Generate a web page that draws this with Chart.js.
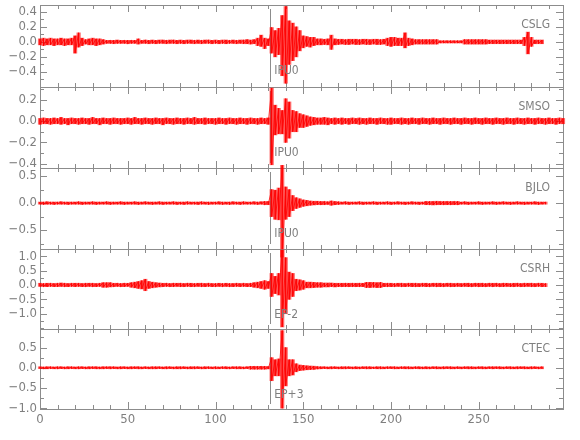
<!DOCTYPE html>
<html>
<head>
<meta charset="utf-8">
<script src="https://cdn.jsdelivr.net/npm/chart.js"></script>
<style>
  body { margin: 0; background: #fff; }
  #wrap { position: relative; width: 580px; height: 440px; overflow: hidden; }
  #wrap canvas { position: absolute; left: 0; }
</style>
</head>
<body>
<div id="wrap"></div>
<script>
// sample times (s), 2 s bins; each trace keeps the max / min of the bin
const times = [
  0,2,4,6,8,10,12,14,16,18,
  20,22,24,26,28,30,32,34,36,38,
  40,42,44,46,48,50,52,54,56,58,
  60,62,64,66,68,70,72,74,76,78,
  80,82,84,86,88,90,92,94,96,98,
  100,102,104,106,108,110,112,114,116,118,
  120,122,124,126,128,130,132,134,136,138,
  140,142,144,146,148,150,152,154,156,158,
  160,162,164,166,168,170,172,174,176,178,
  180,182,184,186,188,190,192,194,196,198,
  200,202,204,206,208,210,212,214,216,218,
  220,222,224,226,228,230,232,234,236,238,
  240,242,244,246,248,250,252,254,256,258,
  260,262,264,266,268,270,272,274,276,278,
  280,282,284,286,288,290,292,294,296,298
];

const cslgHi = [
  .04,.05,.04,.05,.04,.04,.05,.04,.04,.05,
  .08,.12,.05,.03,.04,.05,.04,.04,.03,.02,
  .02,.02,.025,.02,.02,.02,.02,.02,.04,.02,
  .025,.02,.025,.02,.025,.025,.02,.025,.025,.02,
  .025,.02,.025,.025,.02,.025,.02,.025,.025,.02,
  .025,.02,.025,.025,.02,.025,.02,.025,.025,.03,
  .025,.03,.05,.09,.05,.04,.19,.15,.18,.35,
  .47,.28,.25,.2,.15,.08,.07,.06,.06,.04,
  .04,.035,.04,.09,.04,.035,.035,.03,.035,.035,
  .035,.03,.035,.035,.03,.035,.035,.03,.035,.05,
  .06,.06,.05,.05,.12,.05,.04,.03,.03,.03,
  .03,.03,.03,.03,.015,.015,.015,.015,.015,.015,
  .015,.03,.03,.03,.03,.03,.03,.03,.025,.025,
  .025,.025,.025,.025,.025,.025,.025,.025,.06,.13,
  .06,.025,.025,.025,null,null,null,null,null,null
];
const cslgLo = [
  -.04,-.05,-.04,-.04,-.05,-.04,-.04,-.05,-.04,-.04,
  -.15,-.07,-.05,-.03,-.04,-.04,-.05,-.04,-.03,-.02,
  -.02,-.025,-.02,-.02,-.02,-.025,-.02,-.02,-.03,-.02,
  -.02,-.025,-.02,-.025,-.02,-.02,-.025,-.02,-.02,-.025,
  -.02,-.025,-.02,-.02,-.025,-.02,-.025,-.02,-.02,-.025,
  -.02,-.025,-.02,-.025,-.02,-.02,-.025,-.02,-.025,-.025,
  -.03,-.025,-.05,-.06,-.09,-.05,-.15,-.2,-.17,-.45,
  -.55,-.3,-.25,-.2,-.12,-.08,-.06,-.07,-.05,-.04,
  -.04,-.035,-.04,-.1,-.04,-.035,-.03,-.035,-.035,-.03,
  -.035,-.035,-.03,-.035,-.035,-.03,-.035,-.035,-.03,-.05,
  -.06,-.05,-.05,-.05,-.08,-.05,-.04,-.03,-.03,-.03,
  -.03,-.03,-.03,-.03,-.015,-.015,-.015,-.015,-.015,-.015,
  -.015,-.03,-.03,-.03,-.03,-.03,-.03,-.03,-.025,-.025,
  -.025,-.025,-.025,-.025,-.025,-.025,-.025,-.025,-.05,-.16,
  -.06,-.025,-.025,-.025,null,null,null,null,null,null
];

const smsoHi = [
  .025,.03,.025,.025,.03,.025,.035,.025,.025,.03,
  .025,.025,.03,.025,.025,.035,.025,.025,.03,.025,
  .025,.03,.025,.025,.025,.03,.025,.035,.025,.025,
  .03,.025,.025,.03,.025,.025,.03,.025,.025,.03,
  .025,.025,.03,.025,.035,.025,.025,.03,.025,.025,
  .025,.03,.025,.025,.03,.025,.025,.03,.025,.025,
  .03,.025,.025,.03,.025,.03,.31,.15,.12,.1,
  .21,.18,.1,.09,.07,.06,.05,.04,.035,.03,
  .03,.035,.03,.025,.03,.025,.03,.025,.025,.03,
  .025,.03,.025,.025,.03,.025,.025,.03,.025,.025,
  .03,.025,.025,.03,.025,.025,.03,.025,.025,.03,
  .025,.025,.03,.025,.025,.03,.025,.025,.03,.025,
  .025,.03,.025,.025,.03,.025,.025,.03,.025,.025,
  .03,.025,.025,.03,.025,.025,.03,.025,.025,.03,
  .025,.025,.03,.025,.025,.03,.025,.025,.03,.025
];
const smsoLo = [
  -.03,-.025,-.025,-.03,-.025,-.025,-.03,-.025,-.035,-.025,
  -.025,-.03,-.025,-.025,-.03,-.025,-.025,-.035,-.025,-.025,
  -.03,-.025,-.025,-.03,-.025,-.025,-.03,-.025,-.025,-.03,
  -.025,-.025,-.03,-.025,-.025,-.035,-.025,-.025,-.03,-.025,
  -.025,-.03,-.025,-.025,-.03,-.025,-.025,-.03,-.025,-.025,
  -.03,-.025,-.025,-.03,-.025,-.025,-.03,-.025,-.025,-.03,
  -.025,-.025,-.03,-.025,-.025,-.03,-.41,-.13,-.12,-.12,
  -.2,-.16,-.1,-.1,-.06,-.06,-.05,-.04,-.035,-.03,
  -.03,-.03,-.035,-.025,-.03,-.025,-.03,-.025,-.03,-.025,
  -.025,-.03,-.025,-.03,-.025,-.025,-.03,-.025,-.025,-.03,
  -.03,-.025,-.025,-.03,-.025,-.03,-.025,-.025,-.03,-.025,
  -.025,-.03,-.025,-.025,-.03,-.025,-.025,-.03,-.025,-.025,
  -.03,-.025,-.025,-.03,-.025,-.025,-.03,-.025,-.025,-.03,
  -.025,-.025,-.03,-.025,-.025,-.03,-.025,-.025,-.03,-.025,
  -.025,-.03,-.025,-.025,-.03,-.025,-.025,-.03,-.025,-.025
];

const bjloHi = [
  .02,.02,.025,.02,.02,.02,.025,.02,.02,.02,
  .02,.025,.02,.02,.02,.025,.02,.02,.02,.025,
  .02,.02,.02,.025,.02,.02,.02,.025,.02,.02,
  .025,.02,.02,.02,.025,.02,.02,.02,.025,.02,
  .02,.02,.025,.02,.02,.02,.025,.02,.02,.02,
  .02,.025,.02,.02,.02,.025,.02,.02,.025,.02,
  .02,.025,.02,.025,.03,.03,.25,.24,.28,.7,
  .3,.25,.14,.1,.08,.06,.05,.04,.035,.035,
  .03,.03,.025,.04,.03,.025,.02,.025,.02,.02,
  .02,.025,.02,.02,.02,.025,.02,.02,.02,.025,
  .02,.02,.025,.02,.02,.02,.025,.02,.02,.02,
  .03,.03,.03,.035,.03,.03,.03,.03,.03,.03,
  .02,.025,.02,.02,.02,.025,.02,.02,.02,.025,
  .02,.02,.025,.02,.02,.02,.025,.02,.02,.02,
  .02,.025,.02,.02,.02,null,null,null,null,null
];
const bjloLo = [
  -.02,-.025,-.02,-.02,-.025,-.02,-.02,-.02,-.025,-.02,
  -.02,-.02,-.025,-.02,-.02,-.02,-.025,-.02,-.02,-.02,
  -.025,-.02,-.02,-.02,-.025,-.02,-.02,-.02,-.025,-.02,
  -.02,-.02,-.025,-.02,-.02,-.025,-.02,-.02,-.02,-.025,
  -.02,-.025,-.02,-.02,-.02,-.025,-.02,-.02,-.025,-.02,
  -.02,-.02,-.025,-.02,-.025,-.02,-.02,-.025,-.02,-.02,
  -.02,-.02,-.025,-.02,-.03,-.03,-.25,-.3,-.31,-1.0,
  -.3,-.25,-.14,-.1,-.08,-.06,-.05,-.04,-.035,-.03,
  -.03,-.03,-.025,-.04,-.03,-.025,-.02,-.02,-.025,-.02,
  -.02,-.02,-.025,-.02,-.02,-.02,-.025,-.02,-.02,-.02,
  -.025,-.02,-.02,-.02,-.025,-.02,-.02,-.02,-.025,-.02,
  -.03,-.03,-.035,-.03,-.03,-.03,-.03,-.03,-.03,-.03,
  -.02,-.02,-.025,-.02,-.02,-.02,-.025,-.02,-.02,-.02,
  -.025,-.02,-.02,-.02,-.025,-.02,-.02,-.02,-.025,-.02,
  -.02,-.02,-.025,-.02,-.02,null,null,null,null,null
];

const csrhHi = [
  .06,.05,.06,.06,.05,.06,.07,.06,.05,.06,
  .06,.06,.05,.06,.06,.06,.05,.06,.08,.08,
  .08,.06,.06,.05,.06,.06,.08,.1,.12,.15,
  .2,.12,.1,.08,.07,.06,.06,.05,.06,.06,
  .06,.05,.06,.06,.05,.06,.06,.05,.06,.05,
  .05,.06,.05,.06,.05,.05,.06,.05,.06,.05,
  .06,.08,.1,.12,.15,.12,.4,.3,.4,1.22,
  .95,.45,.4,.2,.18,.15,.1,.1,.09,.08,
  .08,.07,.07,.07,.06,.06,.06,.06,.06,.06,
  .06,.06,.06,.09,.09,.09,.08,.09,.06,.06,
  .06,.05,.06,.06,.05,.06,.06,.06,.05,.06,
  .06,.05,.06,.06,.06,.05,.06,.06,.05,.06,
  .05,.06,.06,.05,.06,.06,.06,.05,.06,.06,
  .06,.05,.06,.06,.05,.06,.06,.05,.06,.06,
  .06,.05,.06,.06,.05,null,null,null,null,null
];
const csrhLo = [
  -.05,-.06,-.06,-.05,-.06,-.06,-.05,-.06,-.06,-.05,
  -.06,-.05,-.06,-.06,-.05,-.06,-.06,-.05,-.08,-.08,
  -.07,-.06,-.05,-.06,-.06,-.05,-.08,-.1,-.12,-.14,
  -.2,-.12,-.1,-.08,-.07,-.06,-.05,-.06,-.06,-.05,
  -.06,-.06,-.05,-.06,-.06,-.05,-.06,-.06,-.05,-.06,
  -.06,-.05,-.06,-.05,-.06,-.06,-.05,-.06,-.05,-.06,
  -.06,-.08,-.1,-.12,-.15,-.12,-.4,-.3,-.35,-1.46,
  -1.0,-.5,-.4,-.2,-.18,-.15,-.1,-.1,-.09,-.08,
  -.08,-.07,-.07,-.06,-.07,-.06,-.06,-.06,-.06,-.06,
  -.06,-.06,-.06,-.09,-.09,-.08,-.09,-.09,-.06,-.06,
  -.06,-.06,-.05,-.06,-.06,-.05,-.06,-.06,-.06,-.05,
  -.06,-.06,-.05,-.06,-.06,-.06,-.05,-.06,-.06,-.05,
  -.06,-.05,-.06,-.06,-.05,-.06,-.06,-.06,-.05,-.06,
  -.05,-.06,-.06,-.05,-.06,-.06,-.05,-.06,-.06,-.05,
  -.06,-.06,-.05,-.06,-.06,null,null,null,null,null
];

const ctecHi = [
  .025,.02,.025,.025,.02,.025,.025,.02,.025,.025,
  .02,.025,.025,.02,.025,.025,.025,.02,.025,.025,
  .025,.025,.02,.025,.025,.02,.025,.025,.025,.02,
  .025,.02,.025,.025,.025,.02,.025,.025,.02,.025,
  .025,.025,.02,.025,.025,.025,.02,.025,.025,.02,
  .025,.02,.025,.025,.02,.025,.025,.025,.02,.025,
  .035,.035,.035,.035,.035,.03,.25,.2,.22,.92,
  .5,.2,.2,.1,.07,.06,.05,.045,.04,.03,
  .025,.025,.02,.025,.025,.02,.025,.025,.025,.02,
  .025,.02,.025,.025,.025,.02,.025,.025,.02,.025,
  .025,.025,.02,.025,.025,.025,.02,.025,.025,.02,
  .025,.02,.025,.025,.02,.025,.025,.025,.02,.025,
  .02,.025,.025,.025,.02,.025,.025,.02,.025,.025,
  .025,.025,.02,.025,.025,.02,.025,.025,.025,.02,
  .025,.025,.02,.025,null,null,null,null,null,null
];
const ctecLo = [
  -.02,-.025,-.025,-.02,-.025,-.025,-.02,-.025,-.025,-.02,
  -.025,-.025,-.02,-.025,-.025,-.02,-.025,-.025,-.025,-.02,
  -.025,-.02,-.025,-.025,-.02,-.025,-.025,-.02,-.025,-.025,
  -.02,-.025,-.025,-.025,-.02,-.025,-.025,-.02,-.025,-.025,
  -.025,-.02,-.025,-.025,-.025,-.02,-.025,-.025,-.02,-.025,
  -.025,-.025,-.02,-.025,-.025,-.02,-.025,-.025,-.025,-.02,
  -.035,-.035,-.035,-.035,-.035,-.03,-.32,-.2,-.2,-1.0,
  -.45,-.2,-.18,-.1,-.07,-.06,-.05,-.045,-.04,-.03,
  -.025,-.02,-.025,-.025,-.02,-.025,-.025,-.025,-.02,-.025,
  -.025,-.025,-.02,-.025,-.025,-.02,-.025,-.025,-.025,-.02,
  -.02,-.025,-.025,-.02,-.025,-.025,-.025,-.02,-.025,-.025,
  -.025,-.025,-.02,-.025,-.025,-.025,-.02,-.025,-.025,-.02,
  -.025,-.02,-.025,-.025,-.025,-.02,-.025,-.025,-.02,-.025,
  -.02,-.025,-.025,-.02,-.025,-.025,-.025,-.02,-.025,-.025,
  -.025,-.02,-.025,-.025,null,null,null,null,null,null
];

// axis ticks
const xTicks = [0, 50, 100, 150, 200, 250];
const xMinorStep = 10;
const cslgTicks = [0.4, 0.2, 0.0, -0.2, -0.4];
const smsoTicks = [0.2, 0.0, -0.2, -0.4];
const bjloTicks = [0.5, 0.0, -0.5];
const csrhTicks = [1.0, 0.5, 0.0, -0.5, -1.0];
const ctecTicks = [0.5, 0.0, -0.5, -1.0];

const stations = ['CSLG', 'SMSO', 'BJLO', 'CSRH', 'CTEC'];
const phases = ['IPU0', 'IPU0', 'IPU0', 'EP-2', 'EP+3'];
const pickTime = 131.2;

const panels = [
  { hi: cslgHi, lo: cslgLo, ticks: cslgTicks, minor: 0.1,  min: -0.6,  max: 0.49, top: 5,   h: 82 },
  { hi: smsoHi, lo: smsoLo, ticks: smsoTicks, minor: 0.1,  min: -0.44, max: 0.32, top: 87,  h: 81 },
  { hi: bjloHi, lo: bjloLo, ticks: bjloTicks, minor: 0.25, min: -0.85, max: 0.65, top: 168, h: 81 },
  { hi: csrhHi, lo: csrhLo, ticks: csrhTicks, minor: 0.25, min: -1.53, max: 1.25, top: 249, h: 80 },
  { hi: ctecHi, lo: ctecLo, ticks: ctecTicks, minor: 0.25, min: -1.02, max: 0.96, top: 329, h: 80 }
];

const FONT = "'Liberation Sans Narrow', 'DejaVu Sans Condensed', sans-serif";
const GREY = '#7f7f7f';
const FRAME = '#8c8c8c';
const PAD = 12;
const XLABEL_H = 28;

function fmt(v) {
  const s = Math.abs(v).toFixed(1);
  return v < 0 ? '\u2212' + s : s;
}

// each bin drawn as a stroke from its max to its min
function trace(hi, lo) {
  const pts = [];
  times.forEach((t, i) => {
    if (hi[i] === null) return;
    pts.push({ x: t, y: hi[i] });
    pts.push({ x: t, y: lo[i] });
  });
  return pts;
}

// the same bins as min..max bars, to fill the envelope
function envelope(hi, lo) {
  const pts = [];
  times.forEach((t, i) => {
    if (hi[i] === null) return;
    pts.push({ x: t, y: [lo[i], hi[i]] });
  });
  return pts;
}

function framePlugin(idx) {
  const p = panels[idx];
  return {
    id: 'frame' + idx,
    beforeDatasetsDraw(chart) {
      const ctx = chart.ctx, a = chart.chartArea;
      const xs = chart.scales.x, ys = chart.scales.y;
      ctx.save();
      ctx.strokeStyle = FRAME;
      ctx.lineWidth = 1;
      ctx.strokeRect(Math.round(a.left) + 0.5, Math.round(a.top) + 0.5,
        Math.round(a.right - a.left), Math.round(a.bottom - a.top));
      ctx.beginPath();
      // x ticks, pointing inwards on top and bottom
      for (let v = 0; v <= xs.max; v += xMinorStep) {
        const px = Math.round(xs.getPixelForValue(v)) + 0.5;
        const len = xTicks.includes(v) ? 7 : 4;
        ctx.moveTo(px, a.top); ctx.lineTo(px, a.top + len);
        ctx.moveTo(px, a.bottom); ctx.lineTo(px, a.bottom - len);
      }
      // y ticks on both sides
      const k0 = Math.ceil(ys.min / p.minor - 1e-6), k1 = Math.floor(ys.max / p.minor + 1e-6);
      for (let k = k0; k <= k1; k++) {
        const v = k * p.minor;
        const major = p.ticks.some(t => Math.abs(t - v) < 1e-6);
        const len = major ? 7 : 4;
        const py = Math.round(ys.getPixelForValue(v)) + 0.5;
        ctx.moveTo(a.left, py); ctx.lineTo(a.left + len, py);
        ctx.moveTo(a.right, py); ctx.lineTo(a.right - len, py);
      }
      ctx.stroke();
      // phase pick
      const pk = Math.round(xs.getPixelForValue(pickTime)) + 0.5;
      ctx.beginPath();
      ctx.moveTo(pk, a.top + 4);
      ctx.lineTo(pk, a.bottom - 5);
      ctx.stroke();
      ctx.restore();
    },
    afterDatasetsDraw(chart) {
      const ctx = chart.ctx, a = chart.chartArea;
      const pk = chart.scales.x.getPixelForValue(pickTime);
      ctx.save();
      ctx.fillStyle = GREY;
      ctx.font = '12px ' + FONT;
      ctx.textBaseline = 'middle';
      ctx.textAlign = 'right';
      ctx.fillText(stations[idx], a.right - 13, a.top + 20);
      ctx.textAlign = 'left';
      ctx.fillText(phases[idx], pk + 4, a.top + 66);
      ctx.restore();
    }
  };
}

const wrap = document.getElementById('wrap');

panels.forEach((p, idx) => {
  const last = idx === panels.length - 1;
  const cv = document.createElement('canvas');
  const hgt = PAD + p.h + (last ? XLABEL_H : PAD);
  cv.width = 580;
  cv.height = hgt;
  cv.style.top = (p.top - PAD) + 'px';
  cv.style.width = '580px';
  cv.style.height = hgt + 'px';
  wrap.appendChild(cv);

  new Chart(cv.getContext('2d'), {
    type: 'line',
    data: {
      datasets: [{
        type: 'bar',
        data: envelope(p.hi, p.lo),
        backgroundColor: 'rgba(255, 0, 0, 0.6)',
        borderWidth: 0,
        barPercentage: 1,
        categoryPercentage: 1,
        clip: false
      }, {
        data: trace(p.hi, p.lo),
        borderColor: '#ff0000',
        borderWidth: 0.8,
        pointRadius: 0,
        tension: 0,
        fill: false,
        clip: false
      }]
    },
    options: {
      responsive: false,
      animation: false,
      devicePixelRatio: 1,
      layout: { padding: { top: PAD, bottom: last ? 0 : PAD, left: 0, right: 17 } },
      plugins: { legend: { display: false }, tooltip: { enabled: false } },
      scales: {
        x: {
          type: 'linear',
          min: 0,
          max: 298,
          offset: false,
          display: last,
          grid: { display: false, drawTicks: false, offset: false },
          border: { display: false },
          afterBuildTicks: s => { s.ticks = xTicks.map(v => ({ value: v })); },
          afterFit: s => { if (last) s.height = XLABEL_H; },
          ticks: {
            color: GREY,
            padding: 3,
            maxRotation: 0,
            autoSkip: false,
            font: { family: FONT, size: 13 },
            callback: v => String(v)
          }
        },
        y: {
          type: 'linear',
          min: p.min,
          max: p.max,
          grid: { display: false, drawTicks: false },
          border: { display: false },
          afterBuildTicks: s => { s.ticks = p.ticks.map(v => ({ value: v })); },
          afterFit: s => { s.width = 40; },
          ticks: {
            color: GREY,
            padding: 3,
            autoSkip: false,
            font: { family: FONT, size: 13 },
            callback: v => fmt(v)
          }
        }
      }
    },
    plugins: [framePlugin(idx)]
  });
});
</script>
</body>
</html>
